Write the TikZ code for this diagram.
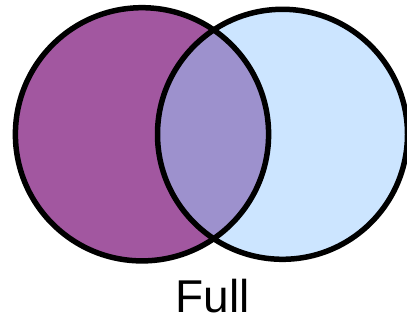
\documentclass[tikz,border=0pt]{standalone}
\usepackage{fontspec}
\setmainfont{Liberation Sans}
\definecolor{setpurple}{HTML}{A257A0}
\definecolor{setblue}{HTML}{CCE5FF}
\definecolor{setboth}{HTML}{9D91CD}

\begin{document}
\begin{tikzpicture}[x=1pt,y=1pt,
      setnode/.style={circle, inner sep=0pt, minimum size=#1},
      rim/.style={draw=black, line width=5.5pt}]
    \useasboundingbox (0,0) rectangle (407,321);
    \node[setnode=253.2pt, fill=setpurple] (left) at (142,186.7) {};
    \node[setnode=250pt, fill=setblue] (right) at (282.5,186.7) {};
    \begin{scope}
      \clip (left.center) circle[radius=126.6];
      \fill[setboth] (right.center) circle[radius=125];
    \end{scope}
    \draw[rim] (left.center) circle[radius=126.6];
    \draw[rim] (right.center) circle[radius=125];
    \node[font=\fontsize{46}{50}\selectfont, anchor=base, inner sep=0pt] (label) at (212.5,8.5) {Full};
  \end{tikzpicture}
\end{document}
